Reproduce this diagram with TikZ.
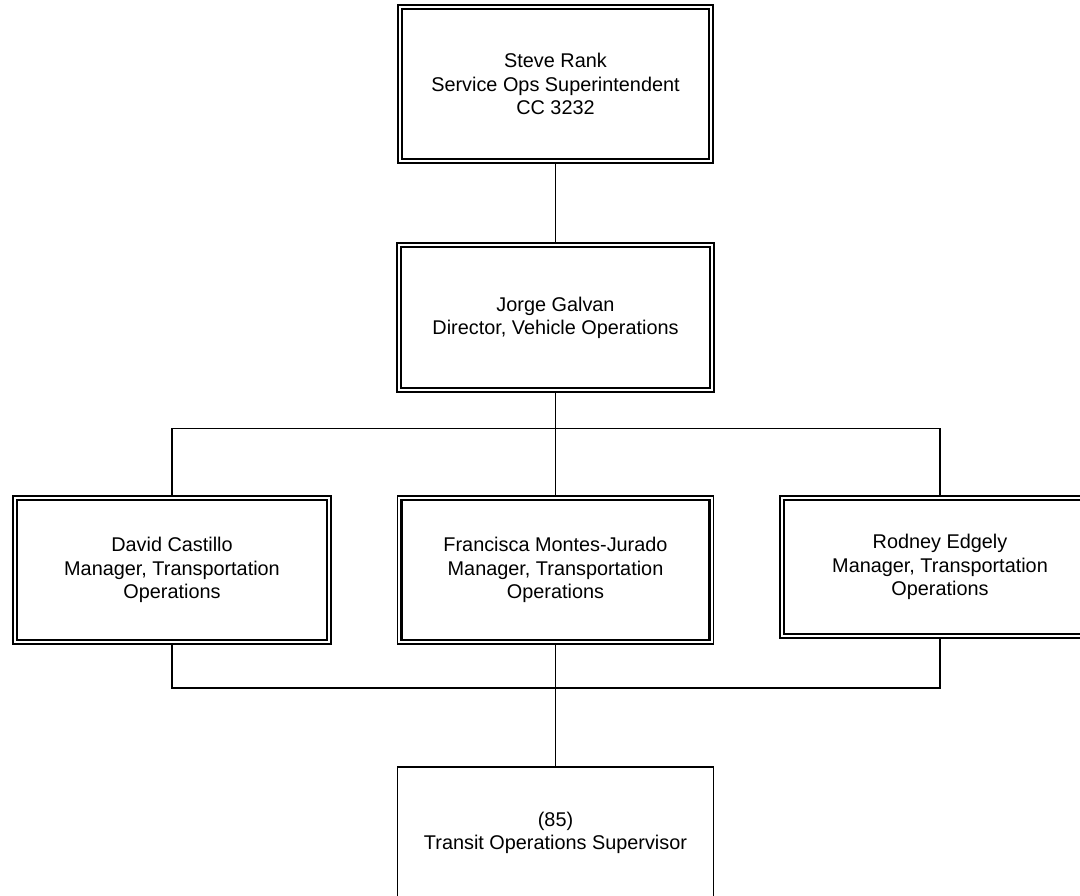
\documentclass[tikz,border=0pt]{standalone}
\usepackage{fontspec}
\setmainfont{Liberation Sans}
\usepackage{tikz}
\usetikzlibrary{positioning}
\tikzstyle{post} = [draw=black, line width=0.7pt, align=center, inner sep=0pt,
    font=\fontsize{11.3}{13.2}\selectfont,
    path picture={\draw[line width=1.25pt]
        ([shift={(0.08,0.08)}]path picture bounding box.south west) rectangle
        ([shift={(-0.08,-0.08)}]path picture bounding box.north east);}]
\tikzstyle{plain} = [draw=black, line width=0.9pt, align=center, inner sep=0pt,
    font=\fontsize{11.3}{13.2}\selectfont]
\tikzstyle{link} = [line width=0.95pt, draw=black]

\begin{document}
\begin{tikzpicture}
    \useasboundingbox (0,0) rectangle (21.6,17.9);
    \clip (0,0) rectangle (21.6,17.9);
    \node[post, minimum width=6.3cm, minimum height=3.16cm] (rank) at (11.11,16.22)
    {Steve Rank\\Service Ops Superintendent\\CC 3232};
    \node[post, minimum width=6.34cm, minimum height=2.98cm] (galvan) at (11.11,11.55)
    {Jorge Galvan\\Director, Vehicle Operations};
    \node[post, minimum width=6.36cm, minimum height=2.96cm] (castillo) at (3.44,6.5)
    {David Castillo\\Manager, Transportation\\Operations};
    \node[post, minimum width=6.32cm, minimum height=2.96cm] (montes) at (11.11,6.5)
    {Francisca Montes-Jurado\\Manager, Transportation\\Operations};
    \node[post, minimum width=6.4cm, minimum height=2.84cm] (edgely) at (18.8,6.56)
    {Rodney Edgely\\Manager, Transportation\\Operations};
    \node[plain, minimum width=6.32cm, minimum height=2.64cm] (super) at (11.11,1.24)
    {(85)\\Transit Operations Supervisor};
    \coordinate (upbus) at (11.11,9.33);
    \coordinate (lowbus) at (11.11,4.14);
    % connectors
    \draw[link] (rank) -- (galvan);
    \draw[link] (galvan) -- (montes);
    \draw[link] (castillo.north) |- (upbus) -| (edgely.north);
    \draw[link] (castillo.south) |- (lowbus) -| (edgely.south);
    \draw[link] (montes) -- (super);
\end{tikzpicture}
\end{document}
